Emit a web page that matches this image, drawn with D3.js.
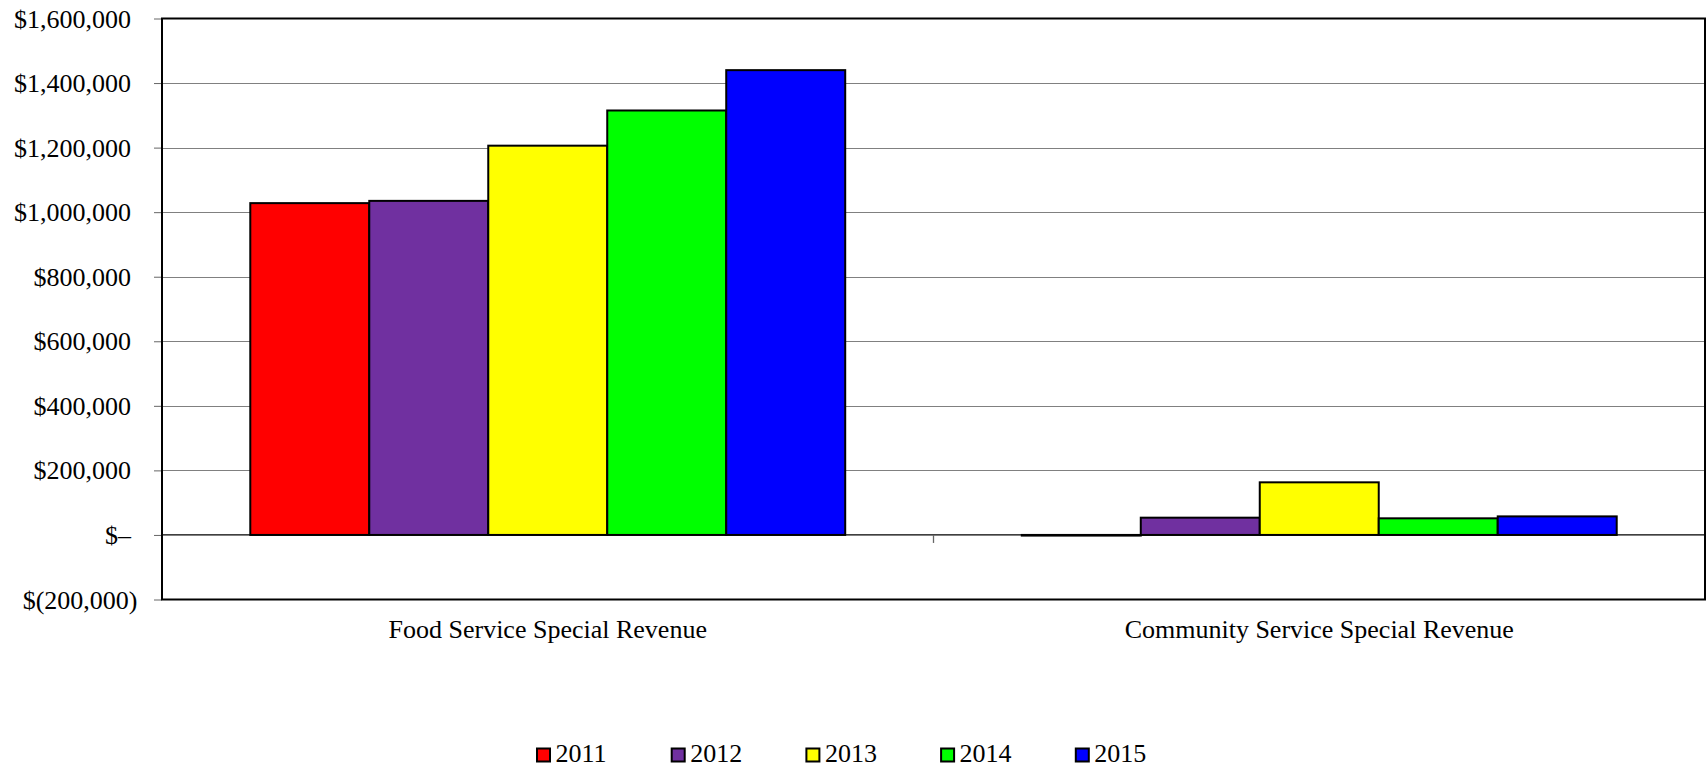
<!DOCTYPE html>
<html>
<head>
<meta charset="utf-8">
<script src="https://cdn.jsdelivr.net/npm/d3@7"></script>
<style>
  html, body { margin: 0; padding: 0; background: #fff; }
  svg { display: block; }
</style>
</head>
<body>
<svg id="chart" width="1708" height="767"></svg>
<script>
const categories = ["Food Service Special Revenue", "Community Service Special Revenue"];
const years = ["2011", "2012", "2013", "2014", "2015"];
const colors = ["#FF0000", "#7030A0", "#FFFF00", "#00FF00", "#0000FF"];
const values2011 = [1028000, -2000];
const values2012 = [1035000, 53500];
const values2013 = [1206000, 163000];
const values2014 = [1315000, 51500];
const values2015 = [1440000, 57500];
const yTicks = [-200000, 0, 200000, 400000, 600000, 800000, 1000000, 1200000, 1400000, 1600000];

const seriesValues = [values2011, values2012, values2013, values2014, values2015];

const W = 1708, H = 767;
const plot = { left: 162, right: 1705, top: 18.5, bottom: 599.5 };
const FONT = "Liberation Serif";

const svg = d3.select("#chart");
svg.append("rect").attr("width", W).attr("height", H).attr("fill", "#fff");

const y = d3.scaleLinear().domain([-200000, 1600000]).range([plot.bottom, plot.top]);
const x0 = d3.scaleBand().domain(categories).range([plot.left, plot.right]).padding(0);
const x1 = d3.scaleBand().domain(years).range([0, x0.bandwidth()]).paddingInner(0).paddingOuter(0.742);
const color = d3.scaleOrdinal().domain(years).range(colors);

function fmt(v) {
  if (v === 0) return "$\u2013";
  const s = d3.format(",")(Math.abs(v));
  return v < 0 ? "$(" + s + ")" : "$" + s;
}

// gridlines
svg.append("g").selectAll("line")
  .data(yTicks.filter(t => t !== 0 && t !== -200000 && t !== 1600000))
  .join("line")
  .attr("x1", plot.left).attr("x2", plot.right)
  .attr("y1", d => Math.round(y(d)) + 0.5).attr("y2", d => Math.round(y(d)) + 0.5)
  .attr("stroke", "#808080").attr("stroke-width", 1);

// y axis ticks & labels
const yAxis = d3.axisLeft(y).tickValues(yTicks).tickSize(8).tickFormat(fmt);
const gy = svg.append("g").attr("transform", `translate(${plot.left},0)`).call(yAxis);
gy.attr("font-family", FONT).attr("font-size", 26);
gy.select(".domain").remove();
gy.selectAll(".tick line").attr("stroke", "#666").attr("stroke-width", 1);
gy.selectAll(".tick text")
  .attr("font-family", FONT)
  .attr("font-size", 26)
  .attr("fill", "#000")
  .attr("x", d => d < 0 ? -24.5 : -31)
  .attr("dy", "0.33em");

// bars
const groups = svg.append("g").selectAll("g")
  .data(categories.map((c, ci) => ({ c, ci })))
  .join("g")
  .attr("transform", d => `translate(${x0(d.c)},0)`);

groups.selectAll("rect")
  .data(d => years.map((yr, i) => ({ yr, v: seriesValues[i][d.ci] })))
  .join("rect")
  .attr("x", d => x1(d.yr))
  .attr("width", x1.bandwidth())
  .attr("y", d => y(Math.max(0, d.v)))
  .attr("height", d => Math.abs(y(d.v) - y(0)))
  .attr("fill", d => color(d.yr))
  .attr("stroke", "#000")
  .attr("stroke-width", 2);

// zero line
svg.append("line")
  .attr("x1", plot.left).attr("x2", plot.right)
  .attr("y1", y(0)).attr("y2", y(0))
  .attr("stroke", "#000").attr("stroke-width", 1.3);

// category boundary tick on zero line
svg.append("g").selectAll("line")
  .data([x0(categories[1])])
  .join("line")
  .attr("x1", d => d).attr("x2", d => d)
  .attr("y1", y(0)).attr("y2", y(0) + 8)
  .attr("stroke", "#666").attr("stroke-width", 1.3);

// plot border
svg.append("rect")
  .attr("x", plot.left).attr("y", plot.top)
  .attr("width", plot.right - plot.left).attr("height", plot.bottom - plot.top)
  .attr("fill", "none").attr("stroke", "#000").attr("stroke-width", 2);

// category labels
svg.append("g").selectAll("text")
  .data(categories)
  .join("text")
  .attr("font-family", FONT)
  .attr("x", d => x0(d) + x0.bandwidth() / 2)
  .attr("y", 638)
  .attr("text-anchor", "middle")
  .attr("font-size", 26)
  .text(d => d);

// legend
const legendX0 = 536, legendStep = 134.7;
const lg = svg.append("g").selectAll("g")
  .data(years)
  .join("g")
  .attr("transform", (d, i) => `translate(${legendX0 + i * legendStep},0)`);
lg.append("rect")
  .attr("x", 1).attr("y", 748.5).attr("width", 13).attr("height", 13)
  .attr("fill", d => color(d)).attr("stroke", "#000").attr("stroke-width", 2);
lg.append("text")
  .attr("font-family", FONT)
  .attr("x", 19.5).attr("y", 762)
  .attr("font-size", 26)
  .text(d => d);
</script>
</body>
</html>
